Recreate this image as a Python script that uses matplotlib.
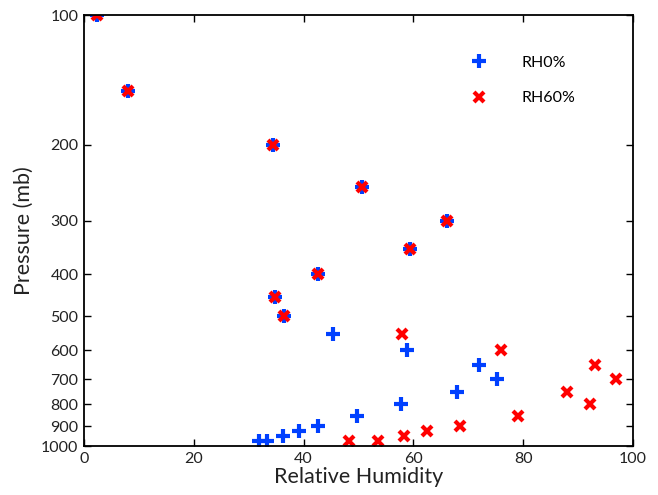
import matplotlib
matplotlib.use("Agg")
import matplotlib.pyplot as plt
from matplotlib.ticker import FixedLocator, NullLocator, FixedFormatter

plt.rcParams["font.family"] = ["Lato", "DejaVu Sans"]

# RH0% profile
rh0_humidity = [2.4, 8.0, 34.5, 50.6, 66.2, 59.4, 42.6, 34.8, 36.4,
                45.4, 58.9, 72.0, 75.2, 67.9, 57.8, 49.7, 42.7, 39.2, 36.3, 33.3, 31.8]
rh0_pressure = [100, 150, 200, 250, 300, 350, 400, 450, 500,
                550, 600, 650, 700, 750, 800, 850, 900, 925, 950, 975, 975]

# RH60% profile
rh60_humidity = [2.4, 8.0, 34.5, 50.6, 66.2, 59.4, 42.6, 34.8, 36.4,
                 57.9, 76.0, 93.1, 96.9, 88.0, 92.1, 79.1, 68.5, 62.4, 58.2, 53.5, 48.3]
rh60_pressure = [100, 150, 200, 250, 300, 350, 400, 450, 500,
                 550, 600, 650, 700, 750, 800, 850, 900, 925, 950, 975, 975]

y_ticks = [100, 200, 300, 400, 500, 600, 700, 800, 900, 1000]
x_ticks = [0, 20, 40, 60, 80, 100]

BLUE = "#0040FF"
RED = "#FF0000"

fig = plt.figure(figsize=(6.58, 4.95), dpi=100)
ax = fig.add_axes([84 / 658, 1 - 446 / 495, (633 - 84) / 658, (446 - 15) / 495])

ax.plot(rh0_humidity, rh0_pressure, linestyle="none", marker="+", markersize=9.5,
        markeredgewidth=3, color=BLUE, label="RH0%")
ax.plot(rh60_humidity, rh60_pressure, linestyle="none", marker="x", markersize=7,
        markeredgewidth=3, color=RED, label="RH60%")

ax.set_yscale("log")
ax.set_ylim(1000, 100)
ax.set_xlim(0, 100)
ax.yaxis.set_major_locator(FixedLocator(y_ticks))
ax.yaxis.set_major_formatter(FixedFormatter([str(t) for t in y_ticks]))
ax.yaxis.set_minor_locator(NullLocator())
ax.set_xticks(x_ticks)

ax.tick_params(direction="in", length=5, width=1, top=True, right=True,
               labelsize=11.5, colors="black", labelcolor="#222222", pad=4)
for s in ax.spines.values():
    s.set_linewidth(1.3)

ax.set_xlabel("Relative Humidity", fontsize=15.5, color="#222222", labelpad=1)
ax.set_ylabel("Pressure (mb)", fontsize=15.5, color="#222222", labelpad=5)

ax.legend(loc="upper left", bbox_to_anchor=(0.693, 0.921), frameon=False,
          fontsize=11.5, handlelength=1.0, handletextpad=2.2, labelspacing=1.35,
          borderaxespad=0.0)

fig.savefig("out.png", dpi=100)
